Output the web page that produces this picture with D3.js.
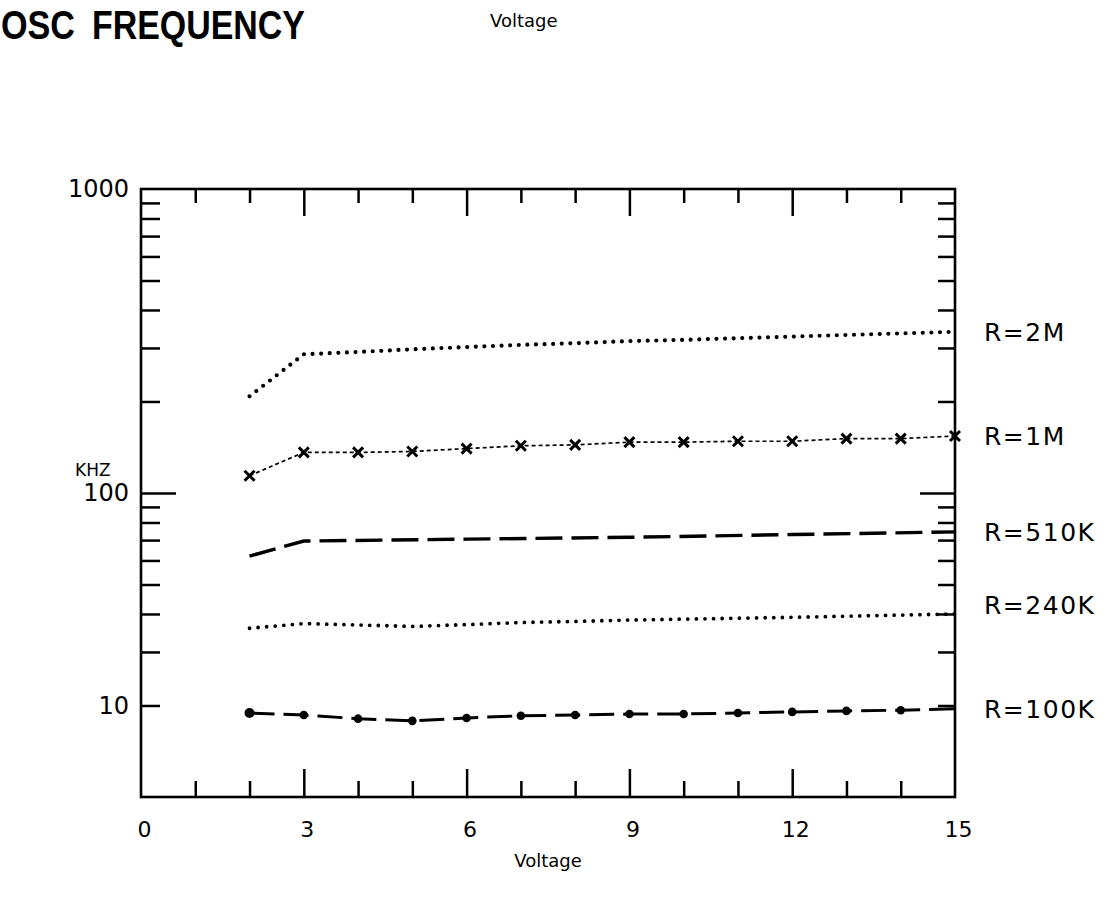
<!DOCTYPE html>
<html>
<head>
<meta charset="utf-8">
<script src="https://cdn.jsdelivr.net/npm/d3@7"></script>
<style>
    html, body { margin: 0; padding: 0; background: #fff; }
    svg { display: block; }
</style>
</head>
<body>
<div id="chart"></div>
<script>
// Oscillator frequency (kHz) against supply voltage, one curve per timing resistor.
// Values are read off the scan on its own log grid; note the scan puts the "10"
// label on the gridline one octave above the frame bottom, so it is kept there.
const volts = [2, 3, 4, 5, 6, 7, 8, 9, 10, 11, 12, 13, 14, 15];
const khz2M = [208, 286, 291, 297, 302, 307, 311, 316, 319, 323, 327, 331, 335, 339];
const khz1M = [114, 136, 136, 137, 140, 143, 144, 147, 147, 148, 148, 151, 151, 154];
const volts510K = [2, 3, 6, 9, 12, 15];
const khz510K = [62, 69.5, 70.5, 71.5, 73, 74.5];
const volts240K = [2, 3, 4, 5, 6, 7, 8, 9, 12, 15];
const khz240K = [35.9, 37.2, 36.8, 36.4, 36.9, 37.5, 37.8, 38.2, 39, 40];
const khz100K = [18.9, 18.6, 18.1, 17.8, 18.2, 18.5, 18.6, 18.75, 18.75, 18.9, 19.05, 19.2, 19.3, 19.5];

const seriesNames = ["R=2M", "R=1M", "R=510K", "R=240K", "R=100K"];

const xLabelValues = [0, 3, 6, 9, 12, 15];
const xMajorTicks = [3, 6, 9, 12];
const xMinorTicks = [1, 2, 4, 5, 7, 8, 10, 11, 13, 14];

const yLabelValues = [20, 100, 1000];
const yLabels = ["10", "100", "1000"];
const yMinorTicks = [20, 30, 40, 50, 60, 70, 80, 90, 200, 300, 400, 500, 600, 700, 800, 900];

const width = 1120;
const height = 905;
const plot = { left: 141, right: 955, top: 189, bottom: 797 };
const font = "'DejaVu Sans', sans-serif";

const x = d3.scaleLinear().domain([0, 15]).range([plot.left, plot.right]);
const y = d3.scaleLog().domain([10, 1000]).range([plot.bottom, plot.top]);

const zip = (vs, fs) => vs.map((v, i) => ({ v, f: fs[i] }));

const series = [
    { name: seriesNames[0], points: zip(volts, khz2M), width: 4.2, dash: "0 8.6", cap: "round", mark: null },
    { name: seriesNames[1], points: zip(volts, khz1M), width: 1.7, dash: "4 3", cap: "butt", mark: "cross" },
    { name: seriesNames[2], points: zip(volts510K, khz510K), width: 3.4, dash: "27 9", cap: "butt", mark: null },
    { name: seriesNames[3], points: zip(volts240K, khz240K), width: 3.8, dash: "0 8.6", cap: "round", mark: null },
    { name: seriesNames[4], points: zip(volts, khz100K), width: 3, dash: "25 9", cap: "butt", mark: "dot" }
];

// the 240K label sits a little above its curve in the scan
const labelNudge = { "R=240K": -9 };

const svg = d3.select("#chart").append("svg")
    .attr("width", width)
    .attr("height", height)
    .attr("viewBox", [0, 0, width, height])
    .style("font-family", font);

// title and top caption
const titleFont = "'Liberation Sans Narrow', 'Liberation Sans', sans-serif";
svg.append("text")
    .attr("x", 1)
    .attr("y", 39)
    .attr("font-family", titleFont)
    .attr("font-weight", "bold")
    .attr("font-size", 41)
    .attr("textLength", 74)
    .attr("lengthAdjust", "spacingAndGlyphs")
    .text("OSC");

svg.append("text")
    .attr("x", 92)
    .attr("y", 39)
    .attr("font-family", titleFont)
    .attr("font-weight", "bold")
    .attr("font-size", 41)
    .attr("textLength", 213)
    .attr("lengthAdjust", "spacingAndGlyphs")
    .text("FREQUENCY");

svg.append("text")
    .attr("x", 490)
    .attr("y", 27)
    .attr("font-size", 18)
    .text("Voltage");

// frame
svg.append("rect")
    .attr("x", x(0))
    .attr("y", y(1000))
    .attr("width", x(15) - x(0))
    .attr("height", y(10) - y(1000))
    .attr("fill", "none")
    .attr("stroke", "#000")
    .attr("stroke-width", 2.6);

// inward ticks on all four sides
function ticks(axis, transform) {
    const g = svg.append("g")
        .attr("transform", transform)
        .call(axis);
    g.select(".domain").remove();
    g.selectAll(".tick line").attr("stroke", "#000").attr("stroke-width", 2.5);
    return g;
}

ticks(d3.axisBottom(x).tickValues(xMinorTicks).tickSize(-16).tickFormat(""), `translate(0,${plot.bottom})`);
ticks(d3.axisBottom(x).tickValues(xMajorTicks).tickSize(-28).tickFormat(""), `translate(0,${plot.bottom})`);
ticks(d3.axisTop(x).tickValues(xMinorTicks).tickSize(-14).tickFormat(""), `translate(0,${plot.top})`);
ticks(d3.axisTop(x).tickValues(xMajorTicks).tickSize(-27).tickFormat(""), `translate(0,${plot.top})`);
ticks(d3.axisLeft(y).tickValues(yMinorTicks).tickSize(-19).tickFormat(""), `translate(${plot.left},0)`);
ticks(d3.axisLeft(y).tickValues([100]).tickSize(-35).tickFormat(""), `translate(${plot.left},0)`);
ticks(d3.axisRight(y).tickValues(yMinorTicks).tickSize(-17).tickFormat(""), `translate(${plot.right},0)`);
ticks(d3.axisRight(y).tickValues([100]).tickSize(-35).tickFormat(""), `translate(${plot.right},0)`);

// tick labels
const xAxisLabels = ticks(d3.axisBottom(x).tickValues(xLabelValues).tickSize(0).tickPadding(24), `translate(3,${plot.bottom})`);
xAxisLabels.selectAll("text").attr("font-family", font).attr("font-size", 22).attr("fill", "#000");

const yAxisLabels = ticks(
    d3.axisLeft(y).tickValues(yLabelValues).tickSize(0).tickPadding(12).tickFormat((d, i) => yLabels[i]),
    `translate(${plot.left},0)`
);
yAxisLabels.selectAll("text").attr("font-family", font).attr("font-size", 24).attr("fill", "#000");

// axis titles
svg.append("text")
    .attr("x", (x(0) + x(15)) / 2)
    .attr("y", 867)
    .attr("text-anchor", "middle")
    .attr("font-size", 18)
    .text("Voltage");

svg.append("text")
    .attr("x", 75)
    .attr("y", 476)
    .attr("font-size", 17)
    .text("KHZ");

// curves
const line = d3.line().x(d => x(d.v)).y(d => y(d.f));

const curves = svg.append("g")
    .selectAll("g")
    .data(series)
    .join("g");

curves.append("path")
    .attr("d", d => line(d.points))
    .attr("fill", "none")
    .attr("stroke", "#000")
    .attr("stroke-width", d => d.width)
    .attr("stroke-dasharray", d => d.dash)
    .attr("stroke-linecap", d => d.cap);

// x markers on the 1M curve
curves.filter(d => d.mark === "cross")
    .selectAll("path.mark")
    .data(d => d.points)
    .join("path")
    .attr("class", "mark")
    .attr("d", d => {
        const cx = x(d.v), cy = y(d.f), s = 5;
        return `M${cx - s},${cy - s}L${cx + s},${cy + s}M${cx - s},${cy + s}L${cx + s},${cy - s}`;
    })
    .attr("stroke", "#000")
    .attr("stroke-width", 3);

// dots on the 100K curve (none on the frame itself)
curves.filter(d => d.mark === "dot")
    .selectAll("circle")
    .data(d => d.points.filter(p => p.v < 15))
    .join("circle")
    .attr("cx", d => x(d.v))
    .attr("cy", d => y(d.f))
    .attr("r", (d, i) => i === 0 ? 5 : 4.3)
    .attr("fill", "#000");

// resistor labels at the right end of each curve
svg.append("g")
    .selectAll("text")
    .data(series)
    .join("text")
    .attr("x", plot.right + 29)
    .attr("y", d => y(d.points[d.points.length - 1].f) + (labelNudge[d.name] || 0))
    .attr("dy", "0.36em")
    .attr("font-size", 25)
    .attr("letter-spacing", 1.5)
    .text(d => d.name);
</script>
</body>
</html>
